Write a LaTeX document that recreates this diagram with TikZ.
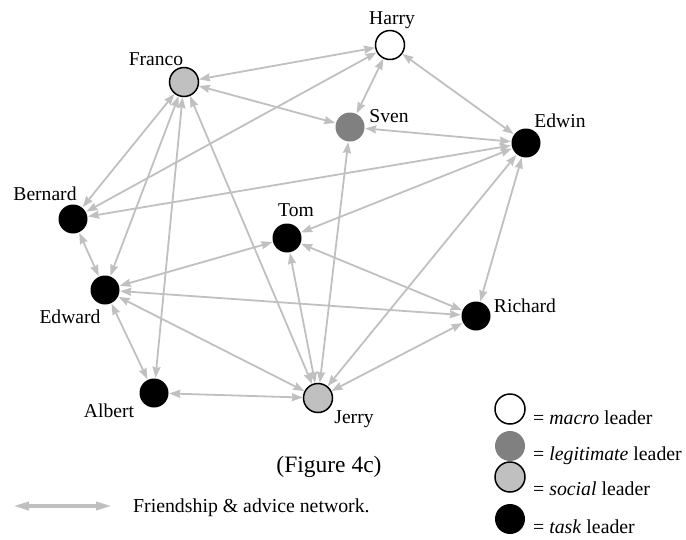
\documentclass[tikz,border=0pt]{standalone}
\usepackage{fontspec}
\setmainfont{Liberation Serif}
\usetikzlibrary{arrows.meta}
\definecolor{edgegray}{RGB}{192,192,192}
\definecolor{legitgray}{RGB}{128,128,128}
\definecolor{socialgray}{RGB}{192,192,192}
\begin{document}
\begin{tikzpicture}[x=1pt,y=-1pt,
  person/.style={circle,minimum size=29pt,inner sep=0pt,line width=1.5pt},
  macro/.style={person,draw=black,fill=white},
  legit/.style={person,fill=legitgray},
  social/.style={person,draw=black,fill=socialgray},
  task/.style={person,fill=black},
  lbl/.style={font=\fontsize{19.6}{22}\selectfont,anchor=base,inner sep=0pt},
  legendtext/.style={font=\fontsize{19.8}{22}\selectfont,anchor=base west,inner sep=0pt},
  tiehead/.tip={Stealth[length=11pt,width=8pt,inset=1pt]},
  tie/.style={draw=edgegray,line width=1.8pt,tiehead-tiehead},
]
\useasboundingbox (0,0) rectangle (686,539);

% people
\node[macro]  (harry)   at (390,45)  {};
\node[social] (franco)  at (184,82)  {};
\node[legit]  (sven)    at (350,127) {};
\node[task]   (edwin)   at (526,143) {};
\node[task]   (bernard) at (73,219)  {};
\node[task]   (tom)     at (287,238) {};
\node[task]   (edward)  at (105,290) {};
\node[task]   (richard) at (476,316) {};
\node[task]   (albert)  at (154,393) {};
\node[social] (jerry)   at (318,398) {};

% names
\node[lbl] (harryname)   at (392,24)  {Harry};
\node[lbl] (franconame)  at (156,65)  {Franco};
\node[lbl] (svenname)    at (389,122) {Sven};
\node[lbl] (edwinname)   at (560,127) {Edwin};
\node[lbl] (bernardname) at (45,200)  {Bernard};
\node[lbl] (tomname)     at (296,216) {Tom};
\node[lbl] (edwardname)  at (70,323)  {Edward};
\node[lbl] (richardname) at (525,312) {Richard};
\node[lbl] (jerryname)   at (354,423) {Jerry};
\node[lbl] (albertname)  at (109,417) {Albert};

% friendship & advice ties
\foreach \a/\b in {franco/harry, franco/sven, harry/sven, harry/bernard,
                   harry/edwin, edwin/sven, franco/bernard, franco/edward,
                   franco/albert, franco/jerry, edwin/bernard, edwin/tom,
                   edwin/jerry, edwin/richard, tom/edward, tom/richard,
                   tom/jerry, edward/richard, edward/jerry, edward/albert,
                   bernard/edward, albert/jerry, sven/jerry, richard/jerry}
  \path[tie] (\a) -- (\b);

% caption
\node[font=\fontsize{23.5}{26}\selectfont,anchor=base,inner sep=0pt] (caption) at (329,472) {(Figure 4c)};

% legend: tie type
\coordinate (keyl) at (13,506);
\coordinate (keyr) at (112,506);
\draw[draw=edgegray,line width=3.5pt,
      {Stealth[length=16pt,width=8pt,inset=0pt]}-{Stealth[length=16pt,width=8pt,inset=0pt]}]
      (keyl) -- (keyr);
\node[legendtext] (keytext) at (133,512) {Friendship \& advice network.};

% legend: leader types
\node[macro,minimum size=30pt]  (kmacro)  at (510,409) {};
\node[legit,minimum size=30pt]  (klegit)  at (510,446) {};
\node[social,minimum size=30pt] (ksocial) at (510,477) {};
\node[task,minimum size=30pt]   (ktask)   at (510,519) {};
\node[legendtext] (tmacro)  at (533,424) {= \textit{macro} leader};
\node[legendtext] (tlegit)  at (533,460) {= \textit{legitimate} leader};
\node[legendtext] (tsocial) at (533,495) {= \textit{social} leader};
\node[legendtext] (ttask)   at (533,533) {= \textit{task} leader};
\end{tikzpicture}
\end{document}
